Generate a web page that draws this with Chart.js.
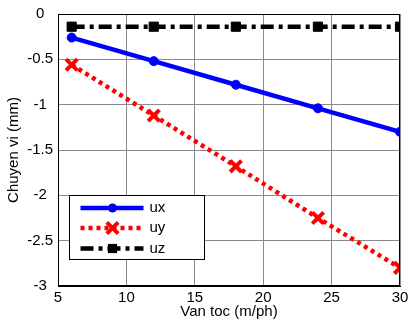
<!DOCTYPE html>
<html><head><meta charset="utf-8">
<script src="https://cdn.jsdelivr.net/npm/chart.js@4"></script>
<style>html,body{margin:0;padding:0;background:#fff}</style>
</head><body>
<canvas id="c" width="412" height="324"></canvas>
<script>
const speeds = [6, 12, 18, 24, 30];
const ux = [-0.26, -0.52, -0.78, -1.04, -1.30];
const uy = [-0.56, -1.12, -1.68, -2.25, -2.80];
const uz = [-0.14, -0.14, -0.14, -0.14, -0.14];
const seriesNames = ['ux', 'uy', 'uz'];
const xTicks = [5, 10, 15, 20, 25, 30];
const yTicks = [0, -0.5, -1, -1.5, -2, -2.5, -3];
const yTickLabels = ['0', '-0.5', '-1', '-1.5', '-2', '-2.5', '-3'];
const xTitle = 'Van toc (m/ph)';
const yTitle = 'Chuyen vi (mm)';

const FONT = "'Liberation Sans', Arial, sans-serif";
const toPts = arr => arr.map((v, i) => ({x: speeds[i], y: v}));

const styles = [
  {color: '#0000ff', dash: [], width: 4.5, marker: 'circle', r: 4.5, mw: 1},
  {color: '#ff0000', dash: [4, 4], width: 4.5, marker: 'crossRot', r: 8, mw: 4},
  {color: '#000000', dash: [13, 5, 4, 5], width: 4.5, marker: 'rect', r: 6.5, mw: 1}
];
const seriesData = [ux, uy, uz];

const datasets = seriesData.map((d, i) => ({
  label: seriesNames[i],
  data: toPts(d),
  showLine: true,
  borderColor: styles[i].color,
  backgroundColor: styles[i].color,
  borderWidth: styles[i].width,
  borderDash: styles[i].dash,
  borderCapStyle: 'butt',
  pointStyle: styles[i].marker,
  pointRadius: styles[i].r,
  pointBorderWidth: styles[i].mw,
  pointBorderColor: styles[i].color,
  pointBackgroundColor: styles[i].color,
  pointHoverRadius: styles[i].r
}));

function drawMarker(ctx, s, x, y) {
  ctx.save();
  ctx.setLineDash([]);
  ctx.fillStyle = s.color; ctx.strokeStyle = s.color;
  if (s.marker === 'circle') {
    ctx.beginPath(); ctx.arc(x, y, s.r, 0, Math.PI * 2); ctx.fill();
  } else if (s.marker === 'rect') {
    const h = s.r * Math.SQRT1_2;
    ctx.fillRect(x - h, y - h, 2 * h, 2 * h);
  } else {
    const h = s.r * Math.SQRT1_2;
    ctx.lineWidth = s.mw;
    ctx.beginPath();
    ctx.moveTo(x - h, y - h); ctx.lineTo(x + h, y + h);
    ctx.moveTo(x + h, y - h); ctx.lineTo(x - h, y + h);
    ctx.stroke();
  }
  ctx.restore();
}

const framePlugin = {
  id: 'frame',
  afterDraw(chart) {
    const ctx = chart.ctx, ca = chart.chartArea;
    ctx.save();
    ctx.strokeStyle = '#000'; ctx.lineWidth = 1;
    ctx.strokeRect(Math.round(ca.left) + 0.5, Math.round(ca.top) + 0.5,
      Math.round(ca.right - ca.left) - 1, Math.round(ca.bottom - ca.top) - 1);
    // legend
    const x0 = Math.round(ca.left) + 11.5, y0 = Math.round(ca.top) + 181.5;
    const w = 135, h = 64;
    ctx.fillStyle = '#fff';
    ctx.fillRect(x0, y0, w, h);
    ctx.strokeStyle = '#000'; ctx.lineWidth = 1;
    ctx.strokeRect(x0, y0, w, h);
    const rows = [12.5, 32.5, 53];
    seriesNames.forEach((name, i) => {
      const s = styles[i];
      const yy = y0 + rows[i];
      ctx.save();
      ctx.strokeStyle = s.color; ctx.lineWidth = s.width;
      ctx.setLineDash(s.dash); ctx.lineCap = 'butt';
      ctx.beginPath(); ctx.moveTo(x0 + 11, yy); ctx.lineTo(x0 + 74, yy); ctx.stroke();
      ctx.restore();
      drawMarker(ctx, s, x0 + 43, yy);
      ctx.fillStyle = '#000';
      ctx.font = '15px ' + FONT;
      ctx.textBaseline = 'middle';
      ctx.textAlign = 'left';
      ctx.fillText(name, x0 + 80, yy);
    });
    ctx.restore();
  }
};

new Chart(document.getElementById('c'), {
  type: 'scatter',
  data: {datasets},
  plugins: [framePlugin],
  options: {
    responsive: false,
    devicePixelRatio: 1,
    animation: false,
    layout: {padding: {top: 14, right: 8, left: 0, bottom: 0}},
    plugins: {legend: {display: false}, tooltip: {enabled: false}},
    scales: {
      x: {
        type: 'linear', min: 5, max: 30,
        afterFit: s => { s.height = 38; },
        afterBuildTicks: s => { s.ticks = xTicks.map(v => ({value: v})); },
        ticks: {color: '#000', font: {family: FONT, size: 15}, padding: 3, maxRotation: 0,
                callback: v => String(v)},
        grid: {color: '#8a8a8a', lineWidth: 1, drawTicks: false, tickLength: 0},
        border: {display: true, color: '#000'},
        title: {display: true, text: xTitle, color: '#000', font: {family: FONT, size: 15},
                padding: {top: 0, bottom: 3}}
      },
      y: {
        type: 'linear', min: -3, max: 0,
        afterFit: s => { s.width = 58; },
        afterBuildTicks: s => { s.ticks = yTicks.map(v => ({value: v})); },
        ticks: {color: '#000', font: {family: FONT, size: 15}, padding: 5, crossAlign: 'center',
                callback: v => yTickLabels[yTicks.indexOf(v)] ?? ''},
        grid: {color: '#8a8a8a', lineWidth: 1, drawTicks: false, tickLength: 0},
        border: {display: true, color: '#000'},
        title: {display: true, text: yTitle, color: '#000', font: {family: FONT, size: 15},
                padding: {top: 5, bottom: 0}}
      }
    }
  }
});
</script>
</body></html>
